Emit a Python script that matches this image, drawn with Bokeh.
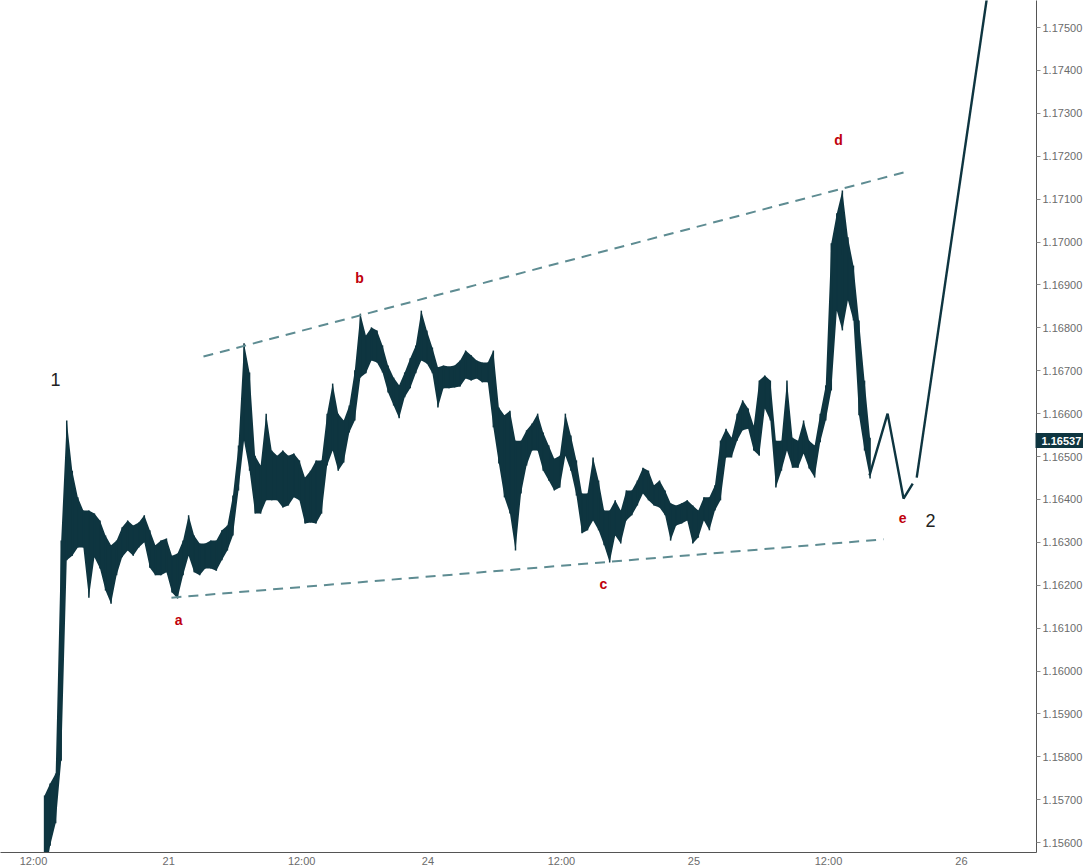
from bokeh.plotting import figure
from bokeh.models import FixedTicker, PrintfTickFormatter, Label, Range1d, LinearAxis
from bokeh.embed import file_html
from bokeh.resources import INLINE

# ---------------- data ----------------
bar_start_hour = 1.0
bar_step_hours = 0.5
bar_high = [
    1.15710, 1.15738, 1.15761, 1.16304, 1.16584, 1.16467, 1.16405, 1.16374, 1.16374, 1.16367,
    1.16351, 1.16316, 1.16293, 1.16304, 1.16335, 1.16351, 1.16339, 1.16346, 1.16363, 1.16328,
    1.16293, 1.16304, 1.16309, 1.16269, 1.16274, 1.16304, 1.16363, 1.16316, 1.16297, 1.16297,
    1.16304, 1.16304, 1.16328, 1.16339, 1.16409, 1.16526, 1.16764, 1.16696, 1.16502, 1.16479,
    1.16600, 1.16514, 1.16502, 1.16514, 1.16502, 1.16507, 1.16491, 1.16451, 1.16467, 1.16491,
    1.16491, 1.16600, 1.16670, 1.16600, 1.16584, 1.16619, 1.16701, 1.16833, 1.16782, 1.16801,
    1.16794, 1.16759, 1.16712, 1.16684, 1.16666, 1.16696, 1.16729, 1.16759, 1.16840, 1.16794,
    1.16754, 1.16708, 1.16712, 1.16710, 1.16712, 1.16724, 1.16747, 1.16736, 1.16724, 1.16719,
    1.16719, 1.16747, 1.16614, 1.16596, 1.16607, 1.16537, 1.16537, 1.16561, 1.16577, 1.16600,
    1.16556, 1.16526, 1.16495, 1.16502, 1.16600, 1.16549, 1.16491, 1.16414, 1.16414, 1.16498,
    1.16444, 1.16374, 1.16374, 1.16398, 1.16374, 1.16421, 1.16421, 1.16444, 1.16474, 1.16467,
    1.16433, 1.16444, 1.16421, 1.16391, 1.16386, 1.16391, 1.16398, 1.16386, 1.16374, 1.16405,
    1.16405, 1.16433, 1.16537, 1.16565, 1.16544, 1.16600, 1.16631, 1.16612, 1.16572, 1.16677,
    1.16689, 1.16677, 1.16537, 1.16537, 1.16677, 1.16544, 1.16537, 1.16584, 1.16537, 1.16526,
    1.16600, 1.16666, 1.16997, 1.17067, 1.17120, 1.17011, 1.16945, 1.16817, 1.16677, 1.16544,
]
bar_low = [
    1.15512, 1.15593, 1.15645, 1.15791, 1.16258, 1.16269, 1.16288, 1.16288, 1.16171, 1.16265,
    1.16239, 1.16188, 1.16157, 1.16223, 1.16265, 1.16281, 1.16269, 1.16288, 1.16300, 1.16241,
    1.16223, 1.16223, 1.16230, 1.16183, 1.16169, 1.16223, 1.16269, 1.16230, 1.16223, 1.16239,
    1.16239, 1.16234, 1.16258, 1.16281, 1.16316, 1.16421, 1.16537, 1.16467, 1.16367, 1.16367,
    1.16398, 1.16398, 1.16398, 1.16381, 1.16386, 1.16405, 1.16398, 1.16344, 1.16346, 1.16344,
    1.16367, 1.16479, 1.16514, 1.16467, 1.16486, 1.16556, 1.16584, 1.16684, 1.16694, 1.16724,
    1.16719, 1.16696, 1.16649, 1.16619, 1.16589, 1.16638, 1.16659, 1.16694, 1.16724, 1.16717,
    1.16694, 1.16614, 1.16659, 1.16659, 1.16661, 1.16663, 1.16682, 1.16677, 1.16682, 1.16673,
    1.16673, 1.16568, 1.16484, 1.16405, 1.16367, 1.16281, 1.16414, 1.16479, 1.16514, 1.16514,
    1.16467, 1.16444, 1.16421, 1.16428, 1.16502, 1.16467, 1.16409, 1.16321, 1.16328, 1.16351,
    1.16328, 1.16293, 1.16253, 1.16316, 1.16297, 1.16351, 1.16363, 1.16386, 1.16414, 1.16398,
    1.16386, 1.16381, 1.16363, 1.16304, 1.16339, 1.16344, 1.16351, 1.16297, 1.16311, 1.16351,
    1.16328, 1.16374, 1.16398, 1.16498, 1.16498, 1.16537, 1.16561, 1.16565, 1.16514, 1.16502,
    1.16612, 1.16584, 1.16428, 1.16467, 1.16514, 1.16474, 1.16474, 1.16507, 1.16472, 1.16451,
    1.16533, 1.16584, 1.16654, 1.16840, 1.16794, 1.16864, 1.16817, 1.16596, 1.16514, 1.16449,
]
bar_hours = [bar_start_hour + bar_step_hours * i for i in range(len(bar_high))]

# projected path (wave e then wave 3)
proj_e_hours = [75.45, 77.08, 78.52, 79.35]
proj_e_price = [1.16456, 1.16600, 1.16402, 1.16437]
proj_up_hours = [79.71, 86.22]
proj_up_price = [1.16451, 1.17600]

# triangle boundaries
upper_line_hours = [15.34, 78.52]
upper_line_price = [1.16733, 1.17162]
lower_line_hours = [12.45, 76.71]
lower_line_price = [1.16171, 1.16307]

# wave labels
wave_labels = ["a", "b", "c", "d", "e"]
wave_hours = [13.09, 29.42, 51.44, 72.65, 78.43]
wave_price = [1.16120, 1.16917, 1.16204, 1.17237, 1.16356]
degree_labels = ["1", "2"]
degree_hours = [1.99, 80.96]
degree_price = [1.16680, 1.16351]

last_price = 1.16537

x_tick_hours = [0, 12.2, 24.2, 35.6, 47.65, 59.6, 71.75, 83.75]
x_tick_labels = ["12:00", "21", "12:00", "24", "12:00", "25", "12:00", "26"]
y_ticks = [1.156, 1.157, 1.158, 1.159, 1.160, 1.161, 1.162, 1.163, 1.164, 1.165,
           1.166, 1.167, 1.168, 1.169, 1.170, 1.171, 1.172, 1.173, 1.174, 1.175]

# ---------------- styles ----------------
PRICE = "#0e3540"
DASH = "#5e8c92"
RED = "#c0000c"
AXIS_TXT = "#6b6b6b"

p = figure(frame_width=1036, frame_height=852, output_backend="svg", toolbar_location=None,
           x_range=Range1d(-2.978, 90.52), y_range=Range1d(1.15577, 1.17563),
           y_axis_location="right", min_border_left=0, min_border_top=0,
           min_border_right=0, min_border_bottom=0)
p.outline_line_color = None
p.xgrid.visible = False
p.ygrid.visible = False
p.background_fill_color = "white"
p.border_fill_color = "white"

# price band
p.varea(x=bar_hours, y1=bar_low, y2=bar_high, fill_color=PRICE, fill_alpha=1.0)
p.segment(x0=bar_hours, y0=bar_low, x1=bar_hours, y1=bar_high, line_color=PRICE, line_width=1.5)

# trend lines
p.line(upper_line_hours, upper_line_price, line_color=DASH, line_width=2, line_dash="10 7")
p.line(lower_line_hours, lower_line_price, line_color=DASH, line_width=2, line_dash="10 7")

# projection
p.line(proj_e_hours, proj_e_price, line_color=PRICE, line_width=2.4)
p.line(proj_up_hours, proj_up_price, line_color=PRICE, line_width=2.4)

# labels
for t, h, v in zip(wave_labels, wave_hours, wave_price):
    p.add_layout(Label(x=h, y=v, text=t, text_color=RED, text_font="Liberation Sans",
                       text_font_size="14px", text_font_style="bold",
                       text_align="center", text_baseline="middle"))
for t, h, v in zip(degree_labels, degree_hours, degree_price):
    p.add_layout(Label(x=h, y=v, text=t, text_color="#222222", text_font="Liberation Sans",
                       text_font_size="18px", text_align="center", text_baseline="middle"))

# axes
xa = p.xaxis[0]
xa.ticker = FixedTicker(ticks=x_tick_hours)
xa.major_label_overrides = {h: l for h, l in zip(x_tick_hours, x_tick_labels)}
xa.major_tick_out = 0
xa.major_tick_in = 0
xa.minor_tick_out = 0
xa.minor_tick_in = 0
xa.axis_line_color = "#555555"
xa.major_label_text_color = AXIS_TXT
xa.major_label_text_font = "Liberation Sans"
xa.major_label_text_font_size = "11px"
xa.major_label_standoff = 2

ya = p.yaxis[0]
ya.ticker = FixedTicker(ticks=y_ticks)
ya.formatter = PrintfTickFormatter(format="%.5f")
ya.major_tick_out = 4
ya.major_tick_in = 0
ya.minor_tick_out = 0
ya.minor_tick_in = 0
ya.axis_line_color = "#555555"
ya.major_tick_line_color = "#888888"
ya.major_label_text_color = AXIS_TXT
ya.major_label_text_font = "Liberation Sans"
ya.major_label_text_font_size = "11px"
ya.major_label_standoff = 2

# last-price tag: an outer right axis whose inward tick forms the dark box
tag = LinearAxis(ticker=FixedTicker(ticks=[last_price]),
                 formatter=PrintfTickFormatter(format="%.5f"))
tag.axis_line_color = None
tag.minor_tick_line_color = None
tag.major_tick_in = 50
tag.major_tick_out = 0
tag.major_tick_line_color = PRICE
tag.major_tick_line_width = 15
tag.major_tick_line_cap = "butt"
tag.major_label_standoff = -44
tag.major_label_text_color = "white"
tag.major_label_text_font = "Liberation Sans"
tag.major_label_text_font_size = "11px"
tag.major_label_text_font_style = "bold"
p.add_layout(tag, "right")

open("out.html", "w").write(file_html(p, INLINE))
